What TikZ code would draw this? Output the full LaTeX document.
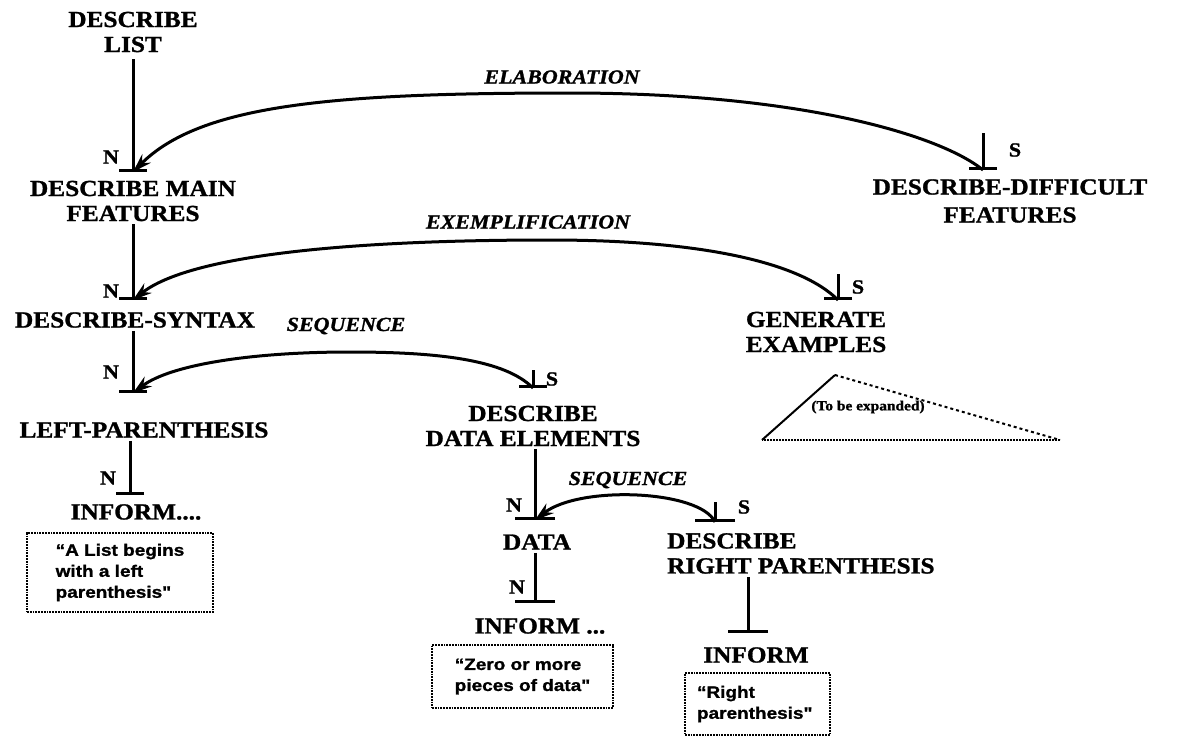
\documentclass[tikz,border=0pt]{standalone}
\usepackage{fontspec}
\setmainfont{Liberation Serif}
\newfontfamily\nodefont[FakeStretch=1.1, FakeBold=1.2]{Liberation Serif}
\newfontfamily\boxfont[FakeStretch=1.15, FakeBold=1.2]{Liberation Sans}
\usetikzlibrary{arrows.meta}
\tikzset{
  lab/.style={font=\nodefont\bfseries\fontsize{23}{25}\selectfont, align=center, inner sep=3pt},
  rel/.style={font=\nodefont\bfseries\itshape\fontsize{20}{22}\selectfont, inner sep=0pt},
  ns/.style={font=\nodefont\bfseries\fontsize{20}{22}\selectfont, inner sep=0pt},
  stem/.style={line width=3pt, -{Bar[width=28pt]}},
  arcline/.style={line width=3pt, -{Stealth[length=19pt, width=12pt]}},
  txtbox/.style={draw, densely dotted, line width=1.8pt, align=left,
    font=\boxfont\bfseries\fontsize{16.5}{21}\selectfont, inner sep=4pt},
}
\begin{document}
\begin{tikzpicture}[x=1pt, y=-1pt]
\useasboundingbox (0,0) rectangle (1180,736);

% nodes
\node[lab] (list) at (133,32) {DESCRIBE\\LIST};
\node[lab] (mainf) at (133,201) {DESCRIBE MAIN\\FEATURES};
\node[lab, font=\nodefont\bfseries\fontsize{23}{28}\selectfont] (diff) at (1010,201) {DESCRIBE-DIFFICULT\\FEATURES};
\node[lab] (syntax) at (135,320) {DESCRIBE-SYNTAX};
\node[lab] (gen) at (816,332) {GENERATE\\EXAMPLES};
\node[lab] (leftp) at (144,430) {LEFT-PARENTHESIS};
\node[lab] (dataelem) at (533,426) {DESCRIBE\\DATA ELEMENTS};
\node[lab] (data) at (537,542) {DATA};
\node[lab, align=left, anchor=north west] (rightp) at (664,530) {DESCRIBE\\RIGHT PARENTHESIS};
\node[lab] (inform1) at (136,512) {INFORM....};
\node[lab] (inform2) at (540,626) {INFORM ...};
\node[lab] (inform3) at (756,655) {INFORM};

% text boxes
\node[txtbox, minimum width=186pt, minimum height=79pt] (box1) at (120,572.5)
  {“A List begins\\with a left\\parenthesis"};
\node[txtbox, minimum width=181pt, minimum height=63pt] (box2) at (522.5,676.5)
  {“Zero or more\\pieces of data"};
\node[txtbox, minimum width=145pt, minimum height=62pt, text width=121pt] (box3) at (757.5,704)
  {“Right\\parenthesis"};

% tee points (nucleus)
\coordinate (t1) at (133,172);
\coordinate (t2) at (133,300);
\coordinate (t3) at (133,393);
\coordinate (t4) at (130,495);
\coordinate (t5) at (535,520);
\coordinate (t6) at (535,603);
\coordinate (t7) at (748,633);
% tee points (satellite)
\coordinate (s1) at (983,170);
\coordinate (s1top) at (983,133);
\coordinate (s2) at (838,300);
\coordinate (s2top) at (838,274);
\coordinate (s3) at (533,388);
\coordinate (s3top) at (533,370);
\coordinate (s4) at (715,522);
\coordinate (s4top) at (715,502);
% arc peaks
\coordinate (pk1) at (570,93);
\coordinate (pk2) at (550,240);
\coordinate (pk3) at (350,352);

% nucleus stems
\draw[stem] ([yshift=-4pt]list.south) -- (t1);
\draw[stem] (mainf.south) -- (t2);
\draw[stem] (syntax.south -| t3) -- (t3);
\draw[stem] (leftp.south -| t4) -- (t4);
\draw[stem, -{Bar[width=40pt]}] (dataelem.south -| t5) -- (t5);
\draw[stem, -{Bar[width=40pt]}] (data.south -| t6) -- (t6);
\draw[stem, -{Bar[width=40pt]}] (rightp.south -| t7) -- (t7);

% satellite stems
\draw[stem] (s1top) -- (s1);
\draw[stem] (s2top) -- (s2);
\draw[stem] (s3top) -- (s3);
\draw[stem, -{Bar[width=40pt]}] (s4top) -- (s4);

% relation arcs
\draw[arcline] (s1) .. controls (940,135) and (800,93) .. (pk1)
  .. controls (330,93) and (200,105) .. (t1);
\draw[arcline] (s2) .. controls (800,262) and (700,240) .. (pk2)
  .. controls (350,240) and (190,255) .. (t2);
\draw[arcline] (s3) .. controls (505,360) and (440,352) .. (pk3)
  .. controls (250,352) and (170,365) .. (t3);
\draw[arcline] (s4) .. controls (700,490) and (580,485) .. (t5);

% relation names
\node[rel] (elab) at (562,77) {ELABORATION};
\node[rel] (exempl) at (528,222) {EXEMPLIFICATION};
\node[rel] (seq1) at (346,326) {SEQUENCE};
\node[rel] (seq2) at (628,480) {SEQUENCE};

% N / S labels
\node[ns] (n1) at (111,157) {N};
\node[ns] (n2) at (111,291) {N};
\node[ns] (n3) at (111,372) {N};
\node[ns] (n4) at (108,478) {N};
\node[ns] (n5) at (514,505) {N};
\node[ns] (n6) at (517,587) {N};
\node[ns] (sl1) at (1015,150) {S};
\node[ns] (sl2) at (858,287) {S};
\node[ns] (sl3) at (552,379) {S};
\node[ns] (sl4) at (744,507) {S};

% triangle (to be expanded)
\coordinate (triL) at (762,440);
\coordinate (triT) at (835,375);
\coordinate (triR) at (1060,440);
\draw[line width=2pt] (triL) -- (triT);
\draw[line width=2pt, dashed] (triT) -- (triR);
\draw[line width=2pt, densely dotted] (triR) -- (triL);
\node[font=\nodefont\bfseries\fontsize{14}{16}\selectfont, inner sep=0pt] (expand) at (868,407) {(To be expanded)};
\end{tikzpicture}
\end{document}
